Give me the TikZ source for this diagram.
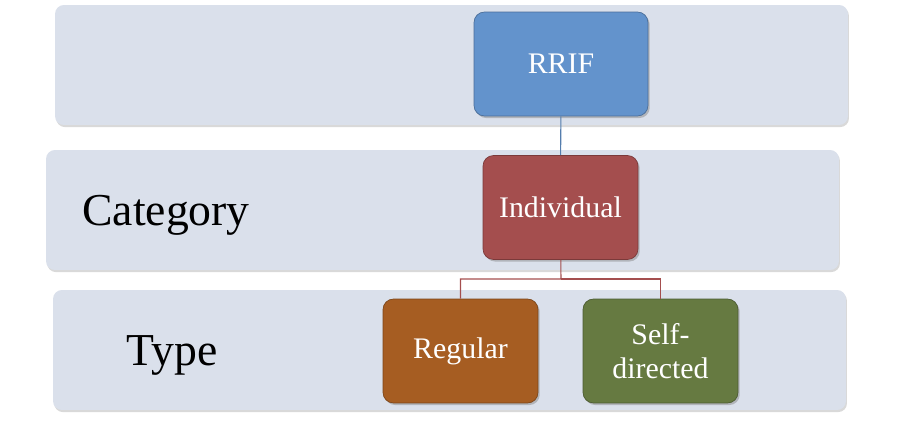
\documentclass[tikz,border=0pt]{standalone}
\usepackage{fontspec}
\setmainfont{Liberation Serif}
\usetikzlibrary{positioning,shadows}
\definecolor{bandfill}{HTML}{DAE0EB}
\definecolor{rrifblue}{HTML}{6393CC}
\definecolor{indred}{HTML}{A44E4E}
\definecolor{regorange}{HTML}{A65D22}
\definecolor{selfgreen}{HTML}{667A41}

\begin{document}
\begin{tikzpicture}[x=0.02cm,y=-0.02cm,
    band/.style={fill=bandfill,rounded corners=5pt,inner sep=0pt,
      minimum width=15.86cm,minimum height=2.4cm,
      drop shadow={opacity=0.3,shadow xshift=0.6pt,shadow yshift=-1.2pt}},
    box/.style={rounded corners=6pt,inner sep=0pt,minimum width=3.1cm,
      minimum height=2.08cm,text=white,align=center,
      font=\fontsize{17}{19}\selectfont,
      drop shadow={opacity=0.45,shadow xshift=1pt,shadow yshift=-1.2pt}},
    lbl/.style={font=\fontsize{26}{30}\selectfont,text=black}]
    \useasboundingbox (0,0) rectangle (900,422);

    % background bands
    \node[band] (R1) at (451.5,65)  {};
    \node[band] (R2) at (442.5,210) {};
    \node[band] (R3) at (449.5,350) {};

    % row labels
    \node[lbl] (cat)  at (166,215) {Category};
    \node[lbl] (type) at (172,355) {Type};

    % hierarchy
    \node[box,fill=rrifblue,draw=rrifblue!75!black,minimum width=3.48cm] (A) at (561,64) {RRIF};
    \node[box,fill=indred,draw=indred!75!black] (B) at (560.5,207.5) {Individual};
    \node[box,fill=regorange,draw=regorange!75!black] (C) at (460.5,351) {Regular};
    \node[box,fill=selfgreen,draw=selfgreen!75!black] (D) at (660.5,351) {Self-\\directed};

    \coordinate (fork) at (561,279);

    % connectors
    \draw[rrifblue!85!black,semithick] (A) -- (B);
    \draw[indred,semithick] (B) -- (fork) -| (C);
    \draw[indred,semithick] (fork) -| (D);
\end{tikzpicture}
\end{document}
